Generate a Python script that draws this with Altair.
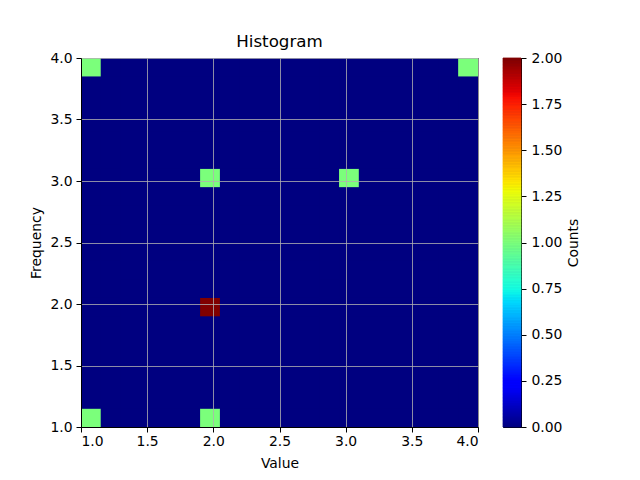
import numpy as np
import pandas as pd
import altair as alt

# Raw observations (x = Value, y = Frequency)
x_values = [1, 1, 2, 2, 2, 2, 3, 4]
y_values = [1, 4, 1, 2, 2, 3, 3, 4]
n_bins = 20
axis_ticks = [1.0, 1.5, 2.0, 2.5, 3.0, 3.5, 4.0]
cbar_ticks = [0.0, 0.25, 0.5, 0.75, 1.0, 1.25, 1.5, 1.75, 2.0]
count_max = 2.0

counts, xe, ye = np.histogram2d(x_values, y_values, bins=n_bins)
rows = []
for i in range(n_bins):
    for j in range(n_bins):
        rows.append(dict(x=float(xe[i]), x2=float(xe[i + 1]),
                         y=float(ye[j]), y2=float(ye[j + 1]),
                         count=float(counts[i, j])))
df = pd.DataFrame(rows)


def jet(t):
    r = np.interp(t, [0, 0.35, 0.66, 0.89, 1], [0, 0, 1, 1, 0.5])
    g = np.interp(t, [0, 0.125, 0.375, 0.64, 0.91, 1], [0, 0, 1, 1, 0, 0])
    b = np.interp(t, [0, 0.11, 0.34, 0.65, 1], [0.5, 1, 1, 0, 0])
    return "#%02x%02x%02x" % (int(round(r * 255)), int(round(g * 255)), int(round(b * 255)))


stops = np.linspace(0, 1, 65)
jet_range = [jet(t) for t in stops]
jet_domain = [float(t * count_max) for t in stops]
color_scale = alt.Scale(domain=jet_domain, range=jet_range, interpolate="rgb")

# colorbar strip levels
levels = np.linspace(0, count_max, 257)
cb = pd.DataFrame({"lo": levels[:-1], "hi": levels[1:], "mid": (levels[:-1] + levels[1:]) / 2})

main = alt.Chart(df).mark_rect(strokeWidth=0).encode(
    x=alt.X("x:Q", scale=alt.Scale(domain=[1, 4], nice=False, zero=False),
            axis=alt.Axis(values=axis_ticks, format=".1f", title="Value", zindex=1,
                          labelPadding=2, titlePadding=9)),
    x2="x2:Q",
    y=alt.Y("y:Q", scale=alt.Scale(domain=[1, 4], nice=False, zero=False),
            axis=alt.Axis(values=axis_ticks, format=".1f", title="Frequency", zindex=1,
                          labelPadding=4, titlePadding=6)),
    y2="y2:Q",
    color=alt.Color("count:Q", scale=color_scale, legend=None),
).properties(
    width=397, height=369,
    title=alt.TitleParams("Histogram", fontSize=16.7, fontWeight="normal",
                          offset=0, anchor="middle", font="DejaVu Sans", color="black"),
)

cbar = alt.Chart(cb).mark_rect(strokeWidth=0.8).encode(
    x=alt.value(0), x2=alt.value(18),
    y=alt.Y("lo:Q", scale=alt.Scale(domain=[0, count_max], nice=False),
            axis=alt.Axis(orient="right", values=cbar_ticks, format=".2f", title="Counts",
                          titleAngle=270, titleBaseline="top",
                          grid=False, labelPadding=5, titlePadding=5)),
    y2="hi:Q",
    color=alt.Color("mid:Q", scale=color_scale, legend=None),
    stroke=alt.Stroke("mid:Q", scale=color_scale, legend=None),
).properties(width=18, height=369)

chart = alt.hconcat(main, cbar, spacing=23).properties(
    padding={"left": 21, "top": 25, "right": 5, "bottom": 5}
).configure(font="DejaVu Sans").configure_view(
    stroke="black", strokeWidth=1, fill="#00007f"
).configure_axis(
    labelFontSize=13.9, titleFontSize=13.9, titleFontWeight="normal",
    labelColor="black", titleColor="black", tickColor="black", domainColor="black",
    tickSize=5, gridColor="#b0b0b0", gridWidth=0.8, gridOpacity=1,
    labelFont="DejaVu Sans", titleFont="DejaVu Sans", domain=True,
)

chart.save("out.html", embed_options={"renderer": "svg", "actions": False})
